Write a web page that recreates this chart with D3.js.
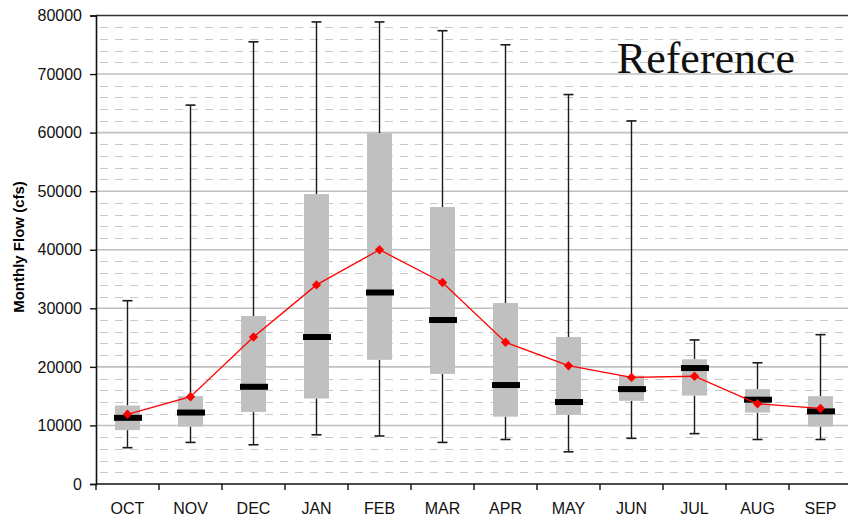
<!DOCTYPE html>
<html>
<head>
<meta charset="utf-8">
<script src="https://cdn.jsdelivr.net/npm/d3@7"></script>
<style>
  html, body { margin: 0; padding: 0; background: #fff; }
  svg { display: block; }
</style>
</head>
<body>
<svg id="chart" width="848" height="520"></svg>
<script>
// ---- data ----
const months = ["OCT","NOV","DEC","JAN","FEB","MAR","APR","MAY","JUN","JUL","AUG","SEP"];
const whiskerMax = [31300, 64700, 75500, 78900, 78900, 77400, 75000, 66500, 62000, 24600, 20700, 25500];
const q3         = [13400, 15000, 28700, 49500, 59900, 47300, 30900, 25100, 18500, 21300, 16200, 15000];
const medians    = [11300, 12200, 16600, 25100, 32700, 28000, 16900, 14000, 16200, 19800, 14400, 12400];
const q1         = [ 9200,  9800, 12300, 14600, 21200, 18800, 11500, 11800, 14200, 15100, 12200,  9800];
const whiskerMin = [ 6200,  7100,  6700,  8400,  8200,  7100,  7600,  5500,  7800,  8600,  7600,  7600];
const means      = [11900, 14900, 25100, 34000, 40000, 34400, 24200, 20200, 18200, 18400, 13700, 12900];
const majorTicks = [0, 10000, 20000, 30000, 40000, 50000, 60000, 70000, 80000];
const minorStep = 2000;
const yTitle = "Monthly Flow (cfs)";
const watermark = "Reference";

// ---- layout ----
const svg = d3.select("#chart");
const pLeft = 96, pRight = 852, pTop = 15.5, pBottom = 484;

const x = d3.scaleBand().domain(months).range([pLeft, pRight]).padding(0);
const y = d3.scaleLinear().domain([0, 80000]).range([pBottom, pTop]);
const bw = x.bandwidth();
const cx = m => x(m) + bw / 2;

// minor dashed gridlines
const minor = d3.range(minorStep, 80000, minorStep).filter(v => v % 10000 !== 0);
svg.append("g").selectAll("line").data(minor).join("line")
  .attr("x1", pLeft + 4).attr("x2", 848)
  .attr("y1", d => Math.round(y(d)) + 0.5).attr("y2", d => Math.round(y(d)) + 0.5)
  .attr("stroke", "#c8c8c8").attr("stroke-width", 1.2)
  .attr("stroke-dasharray", "8,7");

// major gridlines
svg.append("g").selectAll("line").data(majorTicks.filter(v => v > 0 && v < 80000)).join("line")
  .attr("x1", pLeft).attr("x2", 848)
  .attr("y1", d => y(d)).attr("y2", d => y(d))
  .attr("stroke", "#c0c0c0").attr("stroke-width", 1.6);

// top border
svg.append("line").attr("x1", pLeft).attr("x2", 848)
  .attr("y1", y(80000)).attr("y2", y(80000))
  .attr("stroke", "#333").attr("stroke-width", 1.6);

// boxes
const idx = months.map((m, i) => i);
const boxW = 25, medW = 28, capW = 10;
const g = svg.append("g");

g.selectAll(".wu").data(idx).join("line")
  .attr("x1", i => cx(months[i])).attr("x2", i => cx(months[i]))
  .attr("y1", i => y(whiskerMax[i])).attr("y2", i => y(q3[i]))
  .attr("stroke", "#1a1a1a").attr("stroke-width", 1.4);
g.selectAll(".wl").data(idx).join("line")
  .attr("x1", i => cx(months[i])).attr("x2", i => cx(months[i]))
  .attr("y1", i => y(q1[i])).attr("y2", i => y(whiskerMin[i]))
  .attr("stroke", "#1a1a1a").attr("stroke-width", 1.4);
g.selectAll(".cu").data(idx).join("line")
  .attr("x1", i => cx(months[i]) - capW / 2).attr("x2", i => cx(months[i]) + capW / 2)
  .attr("y1", i => y(whiskerMax[i])).attr("y2", i => y(whiskerMax[i]))
  .attr("stroke", "#1a1a1a").attr("stroke-width", 1.6);
g.selectAll(".cl").data(idx).join("line")
  .attr("x1", i => cx(months[i]) - capW / 2).attr("x2", i => cx(months[i]) + capW / 2)
  .attr("y1", i => y(whiskerMin[i])).attr("y2", i => y(whiskerMin[i]))
  .attr("stroke", "#1a1a1a").attr("stroke-width", 1.6);

g.selectAll(".box").data(idx).join("rect")
  .attr("x", i => cx(months[i]) - boxW / 2)
  .attr("width", boxW)
  .attr("y", i => y(q3[i]))
  .attr("height", i => y(q1[i]) - y(q3[i]))
  .attr("fill", "#c0c0c0");

g.selectAll(".med").data(idx).join("rect")
  .attr("x", i => cx(months[i]) - medW / 2 + 0.5)
  .attr("width", medW)
  .attr("y", i => y(medians[i]) - 3)
  .attr("height", 6)
  .attr("fill", "#000");

// mean line
const line = d3.line().x((d, i) => cx(months[i])).y(d => y(d));
svg.append("path").datum(means)
  .attr("d", line)
  .attr("fill", "none").attr("stroke", "#ff0000").attr("stroke-width", 1.3);
svg.append("g").selectAll("path").data(idx).join("path")
  .attr("transform", i => `translate(${cx(months[i])},${y(means[i])})`)
  .attr("d", d3.symbol(d3.symbolDiamond2, 56)())
  .attr("fill", "#ff0000");

// y axis
const yAxis = d3.axisLeft(y).tickValues(majorTicks).tickFormat(d3.format("d")).tickSize(6).tickPadding(8);
const ya = svg.append("g").attr("transform", `translate(${pLeft},0)`).call(yAxis);
ya.select(".domain").attr("stroke", "#111").attr("stroke-width", 1.6);
ya.selectAll(".tick line").attr("stroke", "#111").attr("stroke-width", 1.4);
ya.selectAll("text").attr("font-family", "Liberation Sans, Arial, sans-serif")
  .attr("font-size", 16).attr("fill", "#111");

// x axis
const xa = svg.append("g");
xa.append("line").attr("x1", pLeft).attr("x2", 848).attr("y1", pBottom).attr("y2", pBottom)
  .attr("stroke", "#111").attr("stroke-width", 1.6);
const bounds = months.map(m => x(m)).concat([x(months[months.length - 1]) + bw]);
xa.selectAll(".bt").data(bounds).join("line")
  .attr("x1", d => d).attr("x2", d => d)
  .attr("y1", pBottom).attr("y2", pBottom + 6)
  .attr("stroke", "#111").attr("stroke-width", 1.4);
xa.selectAll(".lbl").data(months).join("text")
  .attr("x", d => cx(d)).attr("y", 514)
  .attr("text-anchor", "middle")
  .attr("font-family", "Liberation Sans, Arial, sans-serif")
  .attr("font-size", 16).attr("fill", "#111")
  .text(d => d);

// y title
svg.append("text")
  .attr("transform", `translate(24,247) rotate(-90)`)
  .attr("text-anchor", "middle")
  .attr("font-family", "Liberation Sans, Arial, sans-serif")
  .attr("font-weight", "bold").attr("font-size", 15).attr("fill", "#000")
  .text(yTitle);

// watermark
svg.append("text")
  .attr("x", 706).attr("y", 73)
  .attr("text-anchor", "middle")
  .attr("font-family", "Liberation Serif, DejaVu Serif, serif")
  .attr("font-size", 44).attr("fill", "#111")
  .text(watermark);
</script>
</body>
</html>
